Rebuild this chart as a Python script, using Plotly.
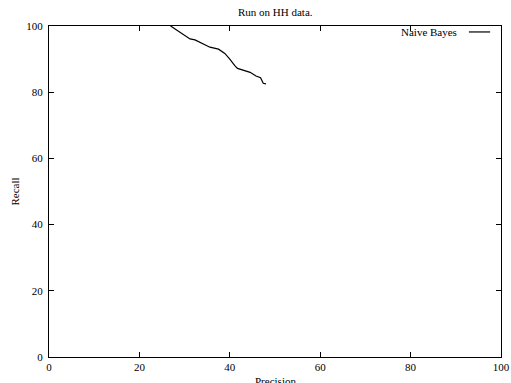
import plotly.graph_objects as go

title_text = "Run on HH data."
x_label = "Precision"
y_label = "Recall"
series_name = "Naive Bayes"

precision = [26.9, 29.0, 31.2, 32.3, 34.0, 35.6, 37.5, 38.9, 40.0, 40.4, 41.1, 41.7, 43.0, 44.5, 45.8, 46.8, 47.4, 48.0]
recall = [100.0, 98.0, 96.1, 95.8, 94.6, 93.6, 93.0, 91.7, 90.0, 89.2, 88.0, 87.2, 86.7, 86.0, 84.9, 84.4, 82.7, 82.5]

tick_vals = [0, 20, 40, 60, 80, 100]

font_family = "Liberation Serif, Times New Roman, serif"

fig = go.Figure()
fig.add_trace(go.Scatter(x=precision, y=recall, mode="lines", name=series_name,
                         line=dict(color="black", width=1.2), showlegend=False))

axis_common = dict(range=[0, 100], tickvals=tick_vals, ticks="inside", ticklen=5,
                   tickcolor="black", tickwidth=1, showline=True, linecolor="black",
                   linewidth=1.2, mirror="ticks", showgrid=False, zeroline=False,
                   automargin=False,
                   tickfont=dict(family=font_family, size=11, color="black"))

fig.update_layout(
    width=511, height=383,
    margin=dict(l=49, r=10, t=26, b=26, autoexpand=False),
    plot_bgcolor="white", paper_bgcolor="white",
    font=dict(family=font_family, size=11, color="black"),
    xaxis=axis_common,
    yaxis=dict(axis_common, ticklabelstandoff=3),
    annotations=[
        dict(text=title_text, xref="paper", yref="paper", x=0.5, y=1, yanchor="bottom",
             yshift=6, showarrow=False, font=dict(size=11)),
        dict(text=x_label, xref="paper", yref="paper", x=0.5, y=0, yanchor="top",
             yshift=-16, showarrow=False, font=dict(size=11)),
        dict(text=y_label, xref="paper", yref="paper", x=0, y=0.5, xanchor="center",
             xshift=-35, textangle=-90, showarrow=False, font=dict(size=11)),
        dict(text=series_name, xref="paper", yref="paper", x=0.907, y=0.982,
             xanchor="right", yanchor="middle", showarrow=False, font=dict(size=11)),
    ],
    shapes=[
        dict(type="line", xref="paper", yref="paper", x0=0.929, x1=0.976,
             y0=0.982, y1=0.982, line=dict(color="black", width=1.2)),
    ],
)

fig.write_html(
    "out.html",
    config={"displayModeBar": False},
    post_script="document.body.style.margin='0';document.body.style.overflow='hidden';",
)
